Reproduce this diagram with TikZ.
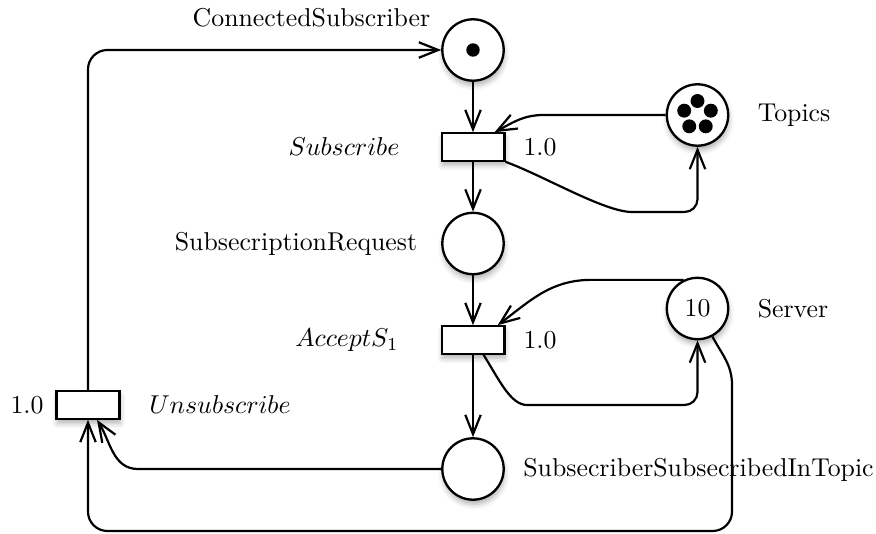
\documentclass[tikz,border=0pt]{standalone}
\usetikzlibrary{arrows.meta,shadows.blur}
\begin{document}
\begin{tikzpicture}[x=0.3876pt,y=0.3876pt,
  place/.style={circle,draw,line width=0.9pt,fill=white,minimum size=23.8pt,inner sep=0pt,
    blur shadow={shadow xshift=0.3pt,shadow yshift=-1.8pt,shadow blur radius=2pt,shadow opacity=30}},
  trans/.style={rectangle,draw,line width=0.9pt,fill=white,minimum width=24.3pt,minimum height=10.6pt,inner sep=0pt,
    blur shadow={shadow xshift=0.3pt,shadow yshift=-1.8pt,shadow blur radius=2pt,shadow opacity=30}},
  flow/.style={draw,line width=0.85pt,-{Straight Barb[length=7.5pt,width=6pt]}},
  lbl/.style={inner sep=0pt},
  token/.style={fill=black}]
  \useasboundingbox (0,0) rectangle (876,-533);

  % places
  \node[place] (cs)  at (473,-50)    {};
  \node[place] (top) at (697.5,-115) {};
  \node[place] (sr)  at (473,-243.5) {};
  \node[place] (srv) at (697.5,-308.5) {10};
  \node[place] (sst) at (473,-469)   {};

  % transitions
  \node[trans] (sub)   at (473,-147) {};
  \node[trans] (acc)   at (473,-340) {};
  \node[trans] (unsub) at (88,-405)  {};

  % tokens
  \fill[token] (cs.center) circle[radius=2.6pt];
  \foreach \a in {90,162,234,306,18}
    \fill[token] ([shift={(\a:14)}]top.center) circle[radius=2.7pt];

  % labels
  \node[lbl] (lcs)    at (311.5,-18)  {ConnectedSubscriber};
  \node[lbl] (lsub)   at (344,-147)   {$Subscribe$};
  \node[lbl] (wsub)   at (540,-147)   {1.0};
  \node[lbl] (ltop)   at (794,-115)   {Topics};
  \node[lbl] (lsr)    at (296,-243.5) {SubsecriptionRequest};
  \node[lbl] (lacc)   at (347,-340)   {$AcceptS_1$};
  \node[lbl] (wacc)   at (540,-340)   {1.0};
  \node[lbl] (lsrv)   at (793,-308.5) {Server};
  \node[lbl] (lsst)   at (698.5,-470) {SubsecriberSubsecribedInTopic};
  \node[lbl] (lunsub) at (220,-405)   {$Unsubscribe$};
  \node[lbl] (wunsub) at (27,-405)    {1.0};

  % arcs
  \draw[flow,rounded corners=7.5pt] (unsub.north) |- (cs.west);
  \draw[flow] (cs.south) -- (sub.north);
  \draw[flow] (top.west) -- ++(-122,0) to[out=180,in=28] ([xshift=-4.2pt]sub.north east);
  \draw[flow,rounded corners=5pt] (sub.south east) to[out=-20,in=180,looseness=0.7] (645,-212) -| (top.south);
  \draw[flow] (sub.south) -- (sr.north);
  \draw[flow] (sr.south) -- (acc.north);
  \draw[flow] (srv.116) -- ++(-92,0) to[out=180,in=37] ([xshift=-3pt]acc.north east);
  \draw[flow,rounded corners=5pt] ([xshift=-8.5pt]acc.south east) to[out=-58,in=180] (540,-405) -| (srv.south);
  \draw[flow] (acc.south) -- (sst.north);
  \draw[flow] (sst.west) -- (138,-469) to[out=180,in=-58] ([xshift=3.5pt]unsub.south);
  \draw[flow] (srv.-62) to[out=-62,in=90] (732,-385) -- (732,-400)
    [rounded corners=7.5pt] -- (732,-531) -| (unsub.south);
\end{tikzpicture}
\end{document}
